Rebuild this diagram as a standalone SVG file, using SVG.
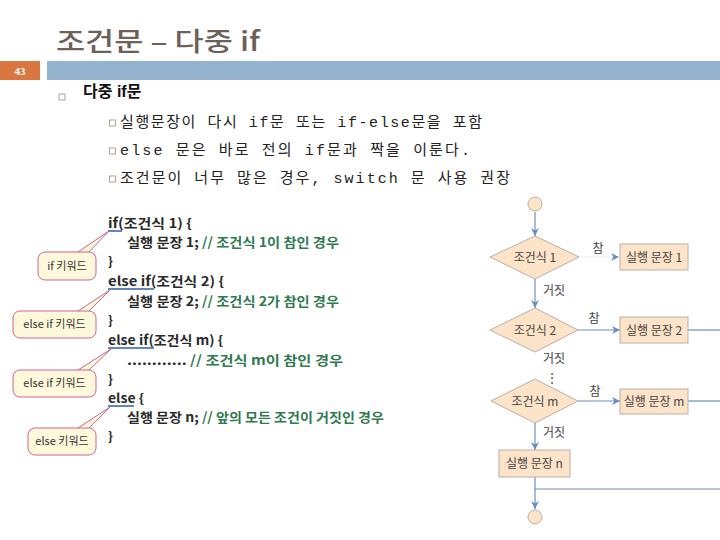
<svg xmlns="http://www.w3.org/2000/svg" width="720" height="540" viewBox="0 0 720 540">
<style>
.title{font-family:"Noto Sans CJK KR","Liberation Sans",sans-serif;font-size:26px;fill:#6e5f58;font-weight:500}
.h1{font-family:"Liberation Sans","Noto Sans CJK KR",sans-serif;font-size:16px;font-weight:bold;fill:#111}
.sub{font-family:"Liberation Mono","Noto Sans CJK KR",monospace;font-size:15px;fill:#222}
.bul{fill:none;stroke:#a08a7a;stroke-width:0.8}
.code{font-family:"Noto Sans CJK KR","Liberation Sans",sans-serif;font-size:13px;font-weight:bold;fill:#2a2a2a}
.cm{fill:#2f7a50;font-weight:bold}
.ul{stroke:#5f88b8;stroke-width:2}
.call{fill:#fff9dc;stroke:#c8508a;stroke-width:0.9}
.ctext{font-family:"Noto Sans CJK KR","Liberation Sans",sans-serif;font-size:11px;fill:#333}
.shape{fill:#fde3c8;stroke:#b8b0a8;stroke-width:1}
.ft{font-family:"Noto Sans CJK KR","Liberation Sans",sans-serif;font-size:12px;fill:#444}
.ln{stroke:#6a8fbf;stroke-width:1.2;fill:none}
</style>
<defs>
<marker id="ah" viewBox="0 0 10 10" refX="10" refY="5" markerWidth="8" markerHeight="8" orient="auto" markerUnits="userSpaceOnUse">
<path d="M0,0 L10,5 L0,10 L3,5 Z" fill="#6a8fbf"/>
</marker>
</defs>

<g id="header">
<text class="title" x="56" y="51" textLength="204" lengthAdjust="spacingAndGlyphs">조건문 – 다중 if</text>
<rect x="0" y="61" width="40" height="19" fill="#d9773f"/>
<text x="20" y="75" text-anchor="middle" font-family="Liberation Serif,serif" font-size="11" font-weight="bold" fill="#fff">43</text>
<rect x="47" y="61" width="673" height="19" fill="#94b3cf"/>
</g>

<g id="bullets">
<rect class="bul" x="59" y="94" width="6" height="6"/>
<text class="h1" x="83" y="97">다중 if문</text>
<rect class="bul" x="109.5" y="120" width="6" height="6"/>
<text class="sub" x="120" y="127" textLength="362" lengthAdjust="spacing">실행문장이 다시 if문 또는 if-else문을 포함</text>
<rect class="bul" x="109.5" y="148" width="6" height="6"/>
<text class="sub" x="120" y="155" textLength="350" lengthAdjust="spacing">else 문은 바로 전의 if문과 짝을 이룬다.</text>
<rect class="bul" x="109.5" y="176" width="6" height="6"/>
<text class="sub" x="120" y="183" textLength="390" lengthAdjust="spacing">조건문이 너무 많은 경우, switch 문 사용 권장</text>
</g>

<g id="code">
<text class="code" x="108" y="228" textLength="84" lengthAdjust="spacingAndGlyphs">if(조건식 1) {</text>
<text class="code" x="127" y="247" textLength="212" lengthAdjust="spacingAndGlyphs">실행 문장 1; <tspan class="cm">// 조건식 1이 참인 경우</tspan></text>
<text class="code" x="108" y="266">}</text>
<text class="code" x="108" y="286" textLength="116" lengthAdjust="spacingAndGlyphs">else if(조건식 2) {</text>
<text class="code" x="127" y="306" textLength="212" lengthAdjust="spacingAndGlyphs">실행 문장 2; <tspan class="cm">// 조건식 2가 참인 경우</tspan></text>
<text class="code" x="108" y="325">}</text>
<text class="code" x="108" y="345" textLength="115" lengthAdjust="spacingAndGlyphs">else if(조건식 m) {</text>
<text class="code" x="127" y="365" textLength="216" lengthAdjust="spacingAndGlyphs">............ <tspan class="cm">// 조건식 m이 참인 경우</tspan></text>
<text class="code" x="108" y="384">}</text>
<text class="code" x="108" y="403" textLength="36" lengthAdjust="spacingAndGlyphs">else {</text>
<text class="code" x="127" y="422" textLength="257" lengthAdjust="spacingAndGlyphs">실행 문장 n; <tspan class="cm">// 앞의 모든 조건이 거짓인 경우</tspan></text>
<text class="code" x="108" y="441">}</text>
<line class="ul" x1="108" y1="231" x2="122" y2="231"/>
<line class="ul" x1="108" y1="289" x2="154" y2="289"/>
<line class="ul" x1="108" y1="348" x2="154" y2="348"/>
<line class="ul" x1="108" y1="406" x2="134" y2="406"/>
</g>

<g id="callout-if">
<polygon class="call" points="75,254 109,231 87,254"/>
<rect class="call" x="38" y="252" width="58" height="28" rx="7"/>
<text class="ctext" x="67" y="270" text-anchor="middle">if 키워드</text>
</g>
<g id="callout-elseif1">
<polygon class="call" points="75,313 110,290 87,313"/>
<rect class="call" x="13" y="311" width="83" height="27" rx="7"/>
<text class="ctext" x="54.5" y="328" text-anchor="middle">else if 키워드</text>
</g>
<g id="callout-elseif2">
<polygon class="call" points="75,372 111,349 87,372"/>
<rect class="call" x="13" y="370" width="83" height="27" rx="7"/>
<text class="ctext" x="54.5" y="387" text-anchor="middle">else if 키워드</text>
</g>
<g id="callout-else">
<polygon class="call" points="75,430 110,407 87,430"/>
<rect class="call" x="28" y="428" width="68" height="27" rx="7"/>
<text class="ctext" x="62" y="445" text-anchor="middle">else 키워드</text>
</g>

<g id="connectors">
<line class="ln" x1="535" y1="212" x2="535" y2="236" marker-end="url(#ah)"/>
<line stroke="#e6edf5" stroke-width="1.2" x1="579" y1="257" x2="619" y2="257" marker-end="url(#ah)"/>
<line class="ln" x1="535" y1="279" x2="535" y2="308" marker-end="url(#ah)"/>
<line class="ln" x1="578" y1="330" x2="620" y2="330" marker-end="url(#ah)"/>
<line class="ln" x1="688" y1="330" x2="720" y2="330"/>
<line class="ln" x1="578" y1="401" x2="620" y2="401" marker-end="url(#ah)"/>
<line class="ln" x1="688" y1="401" x2="720" y2="401"/>
<line class="ln" x1="535" y1="423" x2="535" y2="450" marker-end="url(#ah)"/>
<line class="ln" x1="535" y1="477" x2="535" y2="509" marker-end="url(#ah)"/>
<line class="ln" x1="535" y1="489" x2="720" y2="489"/>
</g>

<g id="start"><circle class="shape" cx="535" cy="204" r="7"/></g>
<g id="cond1">
<polygon class="shape" points="535,236 579,257 535,279 490,257"/>
<text class="ft" x="535" y="262" text-anchor="middle">조건식 1</text>
<text class="ft" x="598" y="253" text-anchor="middle">참</text>
<text class="ft" x="543" y="295">거짓</text>
</g>
<g id="stmt1">
<rect class="shape" x="620" y="244" width="68" height="26"/>
<text class="ft" x="654" y="262" text-anchor="middle">실행 문장 1</text>
</g>
<g id="cond2">
<polygon class="shape" points="535,308 578,330 535,352 490,330"/>
<text class="ft" x="535" y="335" text-anchor="middle">조건식 2</text>
<text class="ft" x="594" y="323" text-anchor="middle">참</text>
<text class="ft" x="543" y="363">거짓</text>
<text class="ft" x="552" y="382" text-anchor="middle">⋮</text>
</g>
<g id="stmt2">
<rect class="shape" x="620" y="317" width="68" height="26"/>
<text class="ft" x="654" y="335" text-anchor="middle">실행 문장 2</text>
</g>
<g id="condm">
<polygon class="shape" points="535,379 578,401 535,423 491,401"/>
<text class="ft" x="535" y="406" text-anchor="middle">조건식 m</text>
<text class="ft" x="595" y="396" text-anchor="middle">참</text>
<text class="ft" x="543" y="437">거짓</text>
</g>
<g id="stmtm">
<rect class="shape" x="620" y="389" width="68" height="25"/>
<text class="ft" x="654" y="406" text-anchor="middle">실행 문장 m</text>
</g>
<g id="stmtn">
<rect class="shape" x="499" y="450" width="71" height="27"/>
<text class="ft" x="534.5" y="468" text-anchor="middle">실행 문장 n</text>
</g>
<g id="end"><circle class="shape" cx="535" cy="517" r="7"/></g>
</svg>
